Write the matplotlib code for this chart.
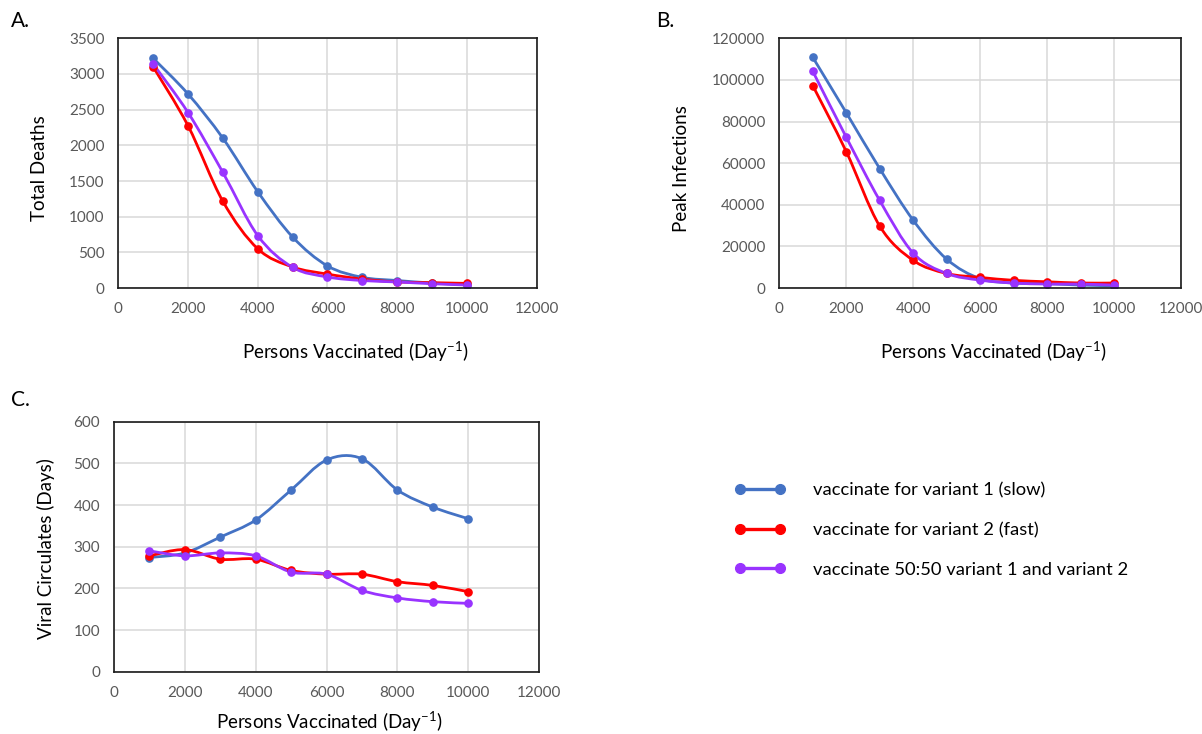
import matplotlib
matplotlib.use('Agg')
import matplotlib.pyplot as plt
from matplotlib.path import Path
from matplotlib.patches import PathPatch
from matplotlib.lines import Line2D

plt.rcParams['font.family'] = ['Lato', 'DejaVu Sans']
plt.rcParams['mathtext.fontset'] = 'custom'
plt.rcParams['mathtext.rm'] = 'Lato'

# data
vaccinated = [1000, 2000, 3000, 4000, 5000, 6000, 7000, 8000, 9000, 10000]

deaths_v1 = [3220, 2720, 2100, 1350, 715, 310, 150, 105, 70, 45]
deaths_v2 = [3100, 2275, 1215, 550, 295, 195, 125, 85, 75, 65]
deaths_mix = [3140, 2460, 1620, 735, 290, 155, 105, 85, 60, 42]

infections_v1 = [110900, 84300, 57400, 32600, 13900, 4500, 2400, 2100, 1400, 1100]
infections_v2 = [97300, 65600, 29800, 13300, 7000, 5100, 3700, 3000, 2400, 2400]
infections_mix = [104200, 72500, 42100, 16800, 7000, 3800, 2400, 1900, 1900, 1400]

circ_v1 = [274, 285, 323, 364, 436, 508, 511, 436, 395, 367]
circ_v2 = [278, 293, 270, 270, 243, 234, 234, 216, 207, 192]
circ_mix = [290, 278, 285, 278, 239, 234, 195, 177, 168, 164]

labels = ['vaccinate for variant 1 (slow)',
          'vaccinate for variant 2 (fast)',
          'vaccinate 50:50 variant 1 and variant 2']
colors = ['#4472C4', '#FF0000', '#9933FF']

xlabel = 'Persons Vaccinated (Day$^{\\mathregular{-1}}$)'
tick_col = '#595959'


def smooth_line(ax, x, y, color):
    # excel style smoothed line: bezier segments through the points
    pts = list(zip(x, y))
    n = len(pts)
    verts = [pts[0]]
    codes = [Path.MOVETO]
    for i in range(n - 1):
        p0 = pts[i - 1] if i > 0 else pts[i]
        p1 = pts[i]
        p2 = pts[i + 1]
        p3 = pts[i + 2] if i + 2 < n else pts[i + 1]
        c1 = (p1[0] + (p2[0] - p0[0]) / 6, p1[1] + (p2[1] - p0[1]) / 6)
        c2 = (p2[0] - (p3[0] - p1[0]) / 6, p2[1] - (p3[1] - p1[1]) / 6)
        verts += [c1, c2, p2]
        codes += [Path.CURVE4] * 3
    ax.add_patch(PathPatch(Path(verts, codes), fill=False, edgecolor=color,
                           lw=2.0, capstyle='round', joinstyle='round'))
    ax.plot(x, y, 'o', color=color, ms=5.2, mec=color)


def setup(ax, ymax, ystep, ylabel, ylab_pos, xlab_pos):
    ax.set_xlim(0, 12000)
    ax.set_ylim(0, ymax)
    ax.set_xticks(range(0, 12001, 2000))
    ax.set_yticks(range(0, ymax + 1, ystep))
    ax.grid(True, color='#D9D9D9', lw=1.1)
    ax.set_axisbelow(True)
    for s in ax.spines.values():
        s.set_color('#1a1a1a')
        s.set_linewidth(1.2)
    ax.tick_params(length=0, pad=10, labelsize=11, labelcolor=tick_col)
    ax.set_xlabel(xlabel, fontsize=13.5)
    ax.set_ylabel(ylabel, fontsize=13.5)
    ax.xaxis.set_label_coords(*xlab_pos)
    ax.yaxis.set_label_coords(*ylab_pos)


fig = plt.figure(figsize=(12.02, 7.34), dpi=100)
axA = fig.add_axes([0.0984, 0.6076, 0.3481, 0.3402])
axB = fig.add_axes([0.6483, 0.6076, 0.3342, 0.3402])
axC = fig.add_axes([0.0948, 0.0849, 0.3538, 0.3406])

for y, c in zip([deaths_v1, deaths_v2, deaths_mix], colors):
    smooth_line(axA, vaccinated, y, c)
setup(axA, 3500, 500, 'Total Deaths', (-0.168, 0.48), (0.566, -0.205))

for y, c in zip([infections_v1, infections_v2, infections_mix], colors):
    smooth_line(axB, vaccinated, y, c)
setup(axB, 120000, 20000, 'Peak Infections', (-0.222, 0.48), (0.534, -0.205))

for y, c in zip([circ_v1, circ_v2, circ_mix], colors):
    smooth_line(axC, vaccinated, y, c)
setup(axC, 600, 100, 'Viral Circulates (Days)', (-0.139, 0.494), (0.506, -0.15))

fig.text(0.009, 0.972, 'A.', fontsize=15, va='center')
fig.text(0.546, 0.972, 'B.', fontsize=15, va='center')
fig.text(0.009, 0.455, 'C.', fontsize=15, va='center')

handles = [Line2D([0], [0], color=c, lw=2.4, marker='o', ms=7) for c in colors]
fig.legend(handles, labels, loc='upper left', bbox_to_anchor=(0.597, 0.365),
           frameon=False, numpoints=2, handlelength=2.8, handletextpad=1.5,
           labelspacing=1.28, fontsize=13.2)

fig.savefig('out.png', dpi=100)
